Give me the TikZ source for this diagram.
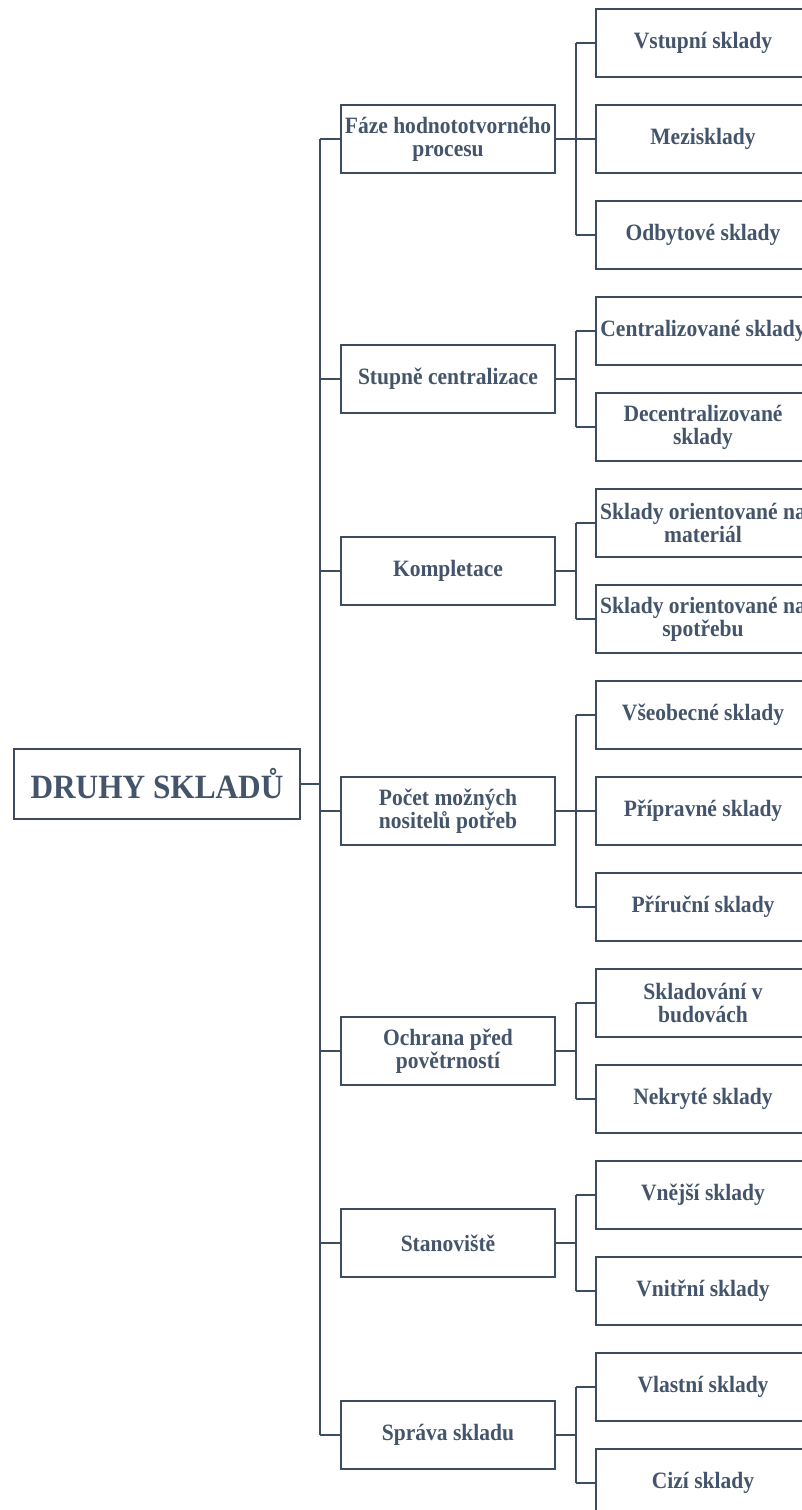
\documentclass[tikz,border=0pt]{standalone}
\usepackage{fontspec}
\setmainfont{Liberation Serif}
\newfontfamily\tallfont[FakeStretch=0.92]{Liberation Serif}
\definecolor{boxc}{HTML}{3E4C61}
\definecolor{txtc}{HTML}{44546A}
\begin{document}
\begin{tikzpicture}[x=1pt,y=-1pt,
  box/.style={draw=boxc, line width=2pt, fill=white, inner sep=0pt, align=center,
    text=txtc, font=\tallfont\fontsize{23.4}{23}\selectfont\bfseries,
    minimum width=214pt, minimum height=68pt},
  rootbox/.style={box, minimum width=286pt, minimum height=70pt,
    font=\tallfont\fontsize{34}{36}\selectfont\bfseries},
  link/.style={draw=boxc, line width=2pt}]
\useasboundingbox (0,0) rectangle (801,1510);
\node[rootbox] (root) at (157,784) {DRUHY SKLADŮ};
% middle level
\node[box] (m1) at (448,139) {Fáze hodnototvorného\\procesu};
\node[box] (m2) at (448,379) {Stupně centralizace};
\node[box] (m3) at (448,571) {Kompletace};
\node[box] (m4) at (448,811) {Počet možných\\nositelů potřeb};
\node[box] (m5) at (448,1051) {Ochrana před\\povětrností};
\node[box] (m6) at (448,1243) {Stanoviště};
\node[box] (m7) at (448,1435) {Správa skladu};
% leaves
\node[box] (l11) at (703,43) {Vstupní sklady};
\node[box] (l12) at (703,139) {Mezisklady};
\node[box] (l13) at (703,235) {Odbytové sklady};
\node[box] (l21) at (703,331) {Centralizované sklady};
\node[box] (l22) at (703,427) {Decentralizované\\sklady};
\node[box] (l31) at (703,523) {Sklady orientované na\\materiál};
\node[box] (l32) at (703,619) {Sklady orientované na\\spotřebu};
\node[box] (l41) at (703,715) {Všeobecné sklady};
\node[box] (l42) at (703,811) {Přípravné sklady};
\node[box] (l43) at (703,907) {Příruční sklady};
\node[box] (l51) at (703,1003) {Skladování v\\budovách};
\node[box] (l52) at (703,1099) {Nekryté sklady};
\node[box] (l61) at (703,1195) {Vnější sklady};
\node[box] (l62) at (703,1291) {Vnitřní sklady};
\node[box] (l71) at (703,1387) {Vlastní sklady};
\node[box] (l72) at (703,1483) {Cizí sklady};
% trunk
\coordinate (tx) at (320,0);
\draw[link] (root.east) -- (root.east -| tx);
\draw[link] (m1.west -| tx) -- (m7.west -| tx);
\foreach \m in {m1,m2,m3,m4,m5,m6,m7} {
  \draw[link] (\m.west -| tx) -- (\m.west);
}
% brackets
\coordinate (bx) at (576,0);
\foreach \m/\first/\last/\all in {m1/l11/l13/{l11,l12,l13}, m2/l21/l22/{l21,l22}, m3/l31/l32/{l31,l32}, m4/l41/l43/{l41,l42,l43}, m5/l51/l52/{l51,l52}, m6/l61/l62/{l61,l62}, m7/l71/l72/{l71,l72}} {
  \draw[link] (\m.east) -- (\m.east -| bx);
  \draw[link] (\first.west -| bx) -- (\last.west -| bx);
  \foreach \l in \all {
    \draw[link] (\l.west -| bx) -- (\l.west);
  }
}
\end{tikzpicture}
\end{document}
